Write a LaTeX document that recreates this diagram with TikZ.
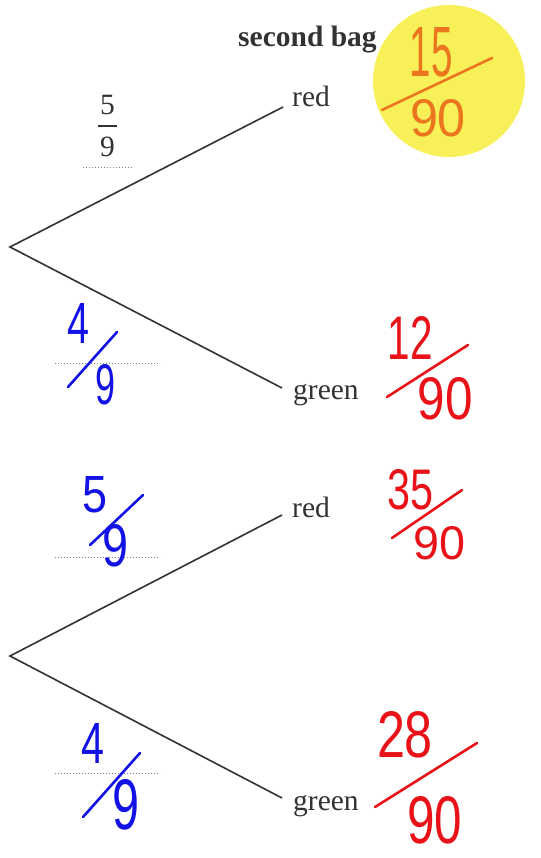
\documentclass[tikz,border=0pt]{standalone}
\usepackage{fontspec}
\setmainfont{Liberation Serif}
\newfontfamily\handfont{Liberation Sans}
\definecolor{inkgray}{RGB}{50,50,50}
\definecolor{dotgray}{RGB}{130,130,150}
\definecolor{hlyellow}{RGB}{248,240,88}
\definecolor{penorange}{RGB}{235,118,30}
\definecolor{penred}{RGB}{232,18,24}
\definecolor{penblue}{RGB}{18,18,228}
\tikzset{
  lbl/.style={anchor=base west, inner sep=0pt, text=inkgray, font=\fontsize{29.5}{34}\selectfont},
  branch/.style={draw=inkgray, line width=1.6pt},
  dotline/.style={draw=dotgray, line width=0.8pt, dash pattern=on 1.2pt off 1.8pt},
  hw/.style={inner sep=0pt, font=\handfont},
  pen/.style={line width=2.6pt, line cap=round},
  printnum/.style={anchor=base, inner sep=0pt, text=inkgray, font=\fontsize{29.5}{34}\selectfont}
}
\begin{document}
\begin{tikzpicture}[x=1pt,y=-1pt]
\useasboundingbox (0,0) rectangle (540,858);
% highlight
\fill[hlyellow] (449,81) circle (76);
% heading
\node[lbl, font=\fontsize{29.5}{34}\selectfont\bfseries] (head) at (238,47) {second bag};
% top tree
\coordinate (r1) at (10,247);
\coordinate (e1) at (283,107);
\coordinate (e2) at (282,388);
\node[lbl] (red1) at (292,107) {red};
\node[lbl] (green1) at (293,399) {green};
\draw[branch] (e1) -- (r1) -- (e2);
% bottom tree
\coordinate (r2) at (10,656);
\coordinate (e3) at (282,515);
\coordinate (e4) at (282,798);
\node[lbl] (red2) at (292,517) {red};
\node[lbl] (green2) at (293,810) {green};
\draw[branch] (e3) -- (r2) -- (e4);
% printed fraction 5/9
\node[printnum] (n59) at (107.5,115) {5};
\node[printnum] (d59) at (107.5,157) {9};
\draw[draw=inkgray, line width=1.3pt] (98,126) -- (117,126);
% dotted answer lines
\draw[dotline] (83,167) -- (134,167);
\draw[dotline] (55,363) -- (160,363);
\draw[dotline] (55,557) -- (160,557);
\draw[dotline] (55,773) -- (160,773);
% orange 15/90
\node[hw, text=penorange] (o15) at (431,52) {\resizebox{43pt}{49pt}{15}};
\node[hw, text=penorange] (o90) at (438,118) {\resizebox{56pt}{37pt}{90}};
\draw[pen, penorange] (382,110) -- (492,58);
% red 12/90
\node[hw, text=penred] (a12) at (410,338) {\resizebox{45pt}{43pt}{12}};
\node[hw, text=penred] (a90) at (445,399) {\resizebox{55pt}{42pt}{90}};
\draw[pen, penred] (387,397) -- (468,345);
% red 35/90
\node[hw, text=penred] (b35) at (410,490) {\resizebox{46pt}{40pt}{35}};
\node[hw, text=penred] (b90) at (439,543) {\resizebox{52pt}{33pt}{90}};
\draw[pen, penred] (392,538) -- (462,490);
% red 28/90
\node[hw, text=penred] (c28) at (405,735) {\resizebox{56pt}{46pt}{28}};
\node[hw, text=penred] (c90) at (435,820) {\resizebox{55pt}{47pt}{90}};
\draw[pen, penred] (375,807) -- (477,743);
% blue 4/9 top
\node[hw, text=penblue] (p4) at (79,323) {\resizebox{22pt}{40pt}{4}};
\node[hw, text=penblue] (p9) at (105,385) {\resizebox{20pt}{40pt}{9}};
\draw[pen, penblue] (68,387) -- (117,332);
% blue 5/9
\node[hw, text=penblue] (q5) at (95,495) {\resizebox{25pt}{36pt}{5}};
\node[hw, text=penblue] (q9) at (115,546) {\resizebox{26pt}{42pt}{9}};
\draw[pen, penblue] (90,545) -- (143,495);
% blue 4/9 bottom
\node[hw, text=penblue] (s4) at (93,743) {\resizebox{23pt}{40pt}{4}};
\node[hw, text=penblue] (s9) at (126,805) {\resizebox{27pt}{50pt}{9}};
\draw[pen, penblue] (83,817) -- (140,753);
\end{tikzpicture}
\end{document}
